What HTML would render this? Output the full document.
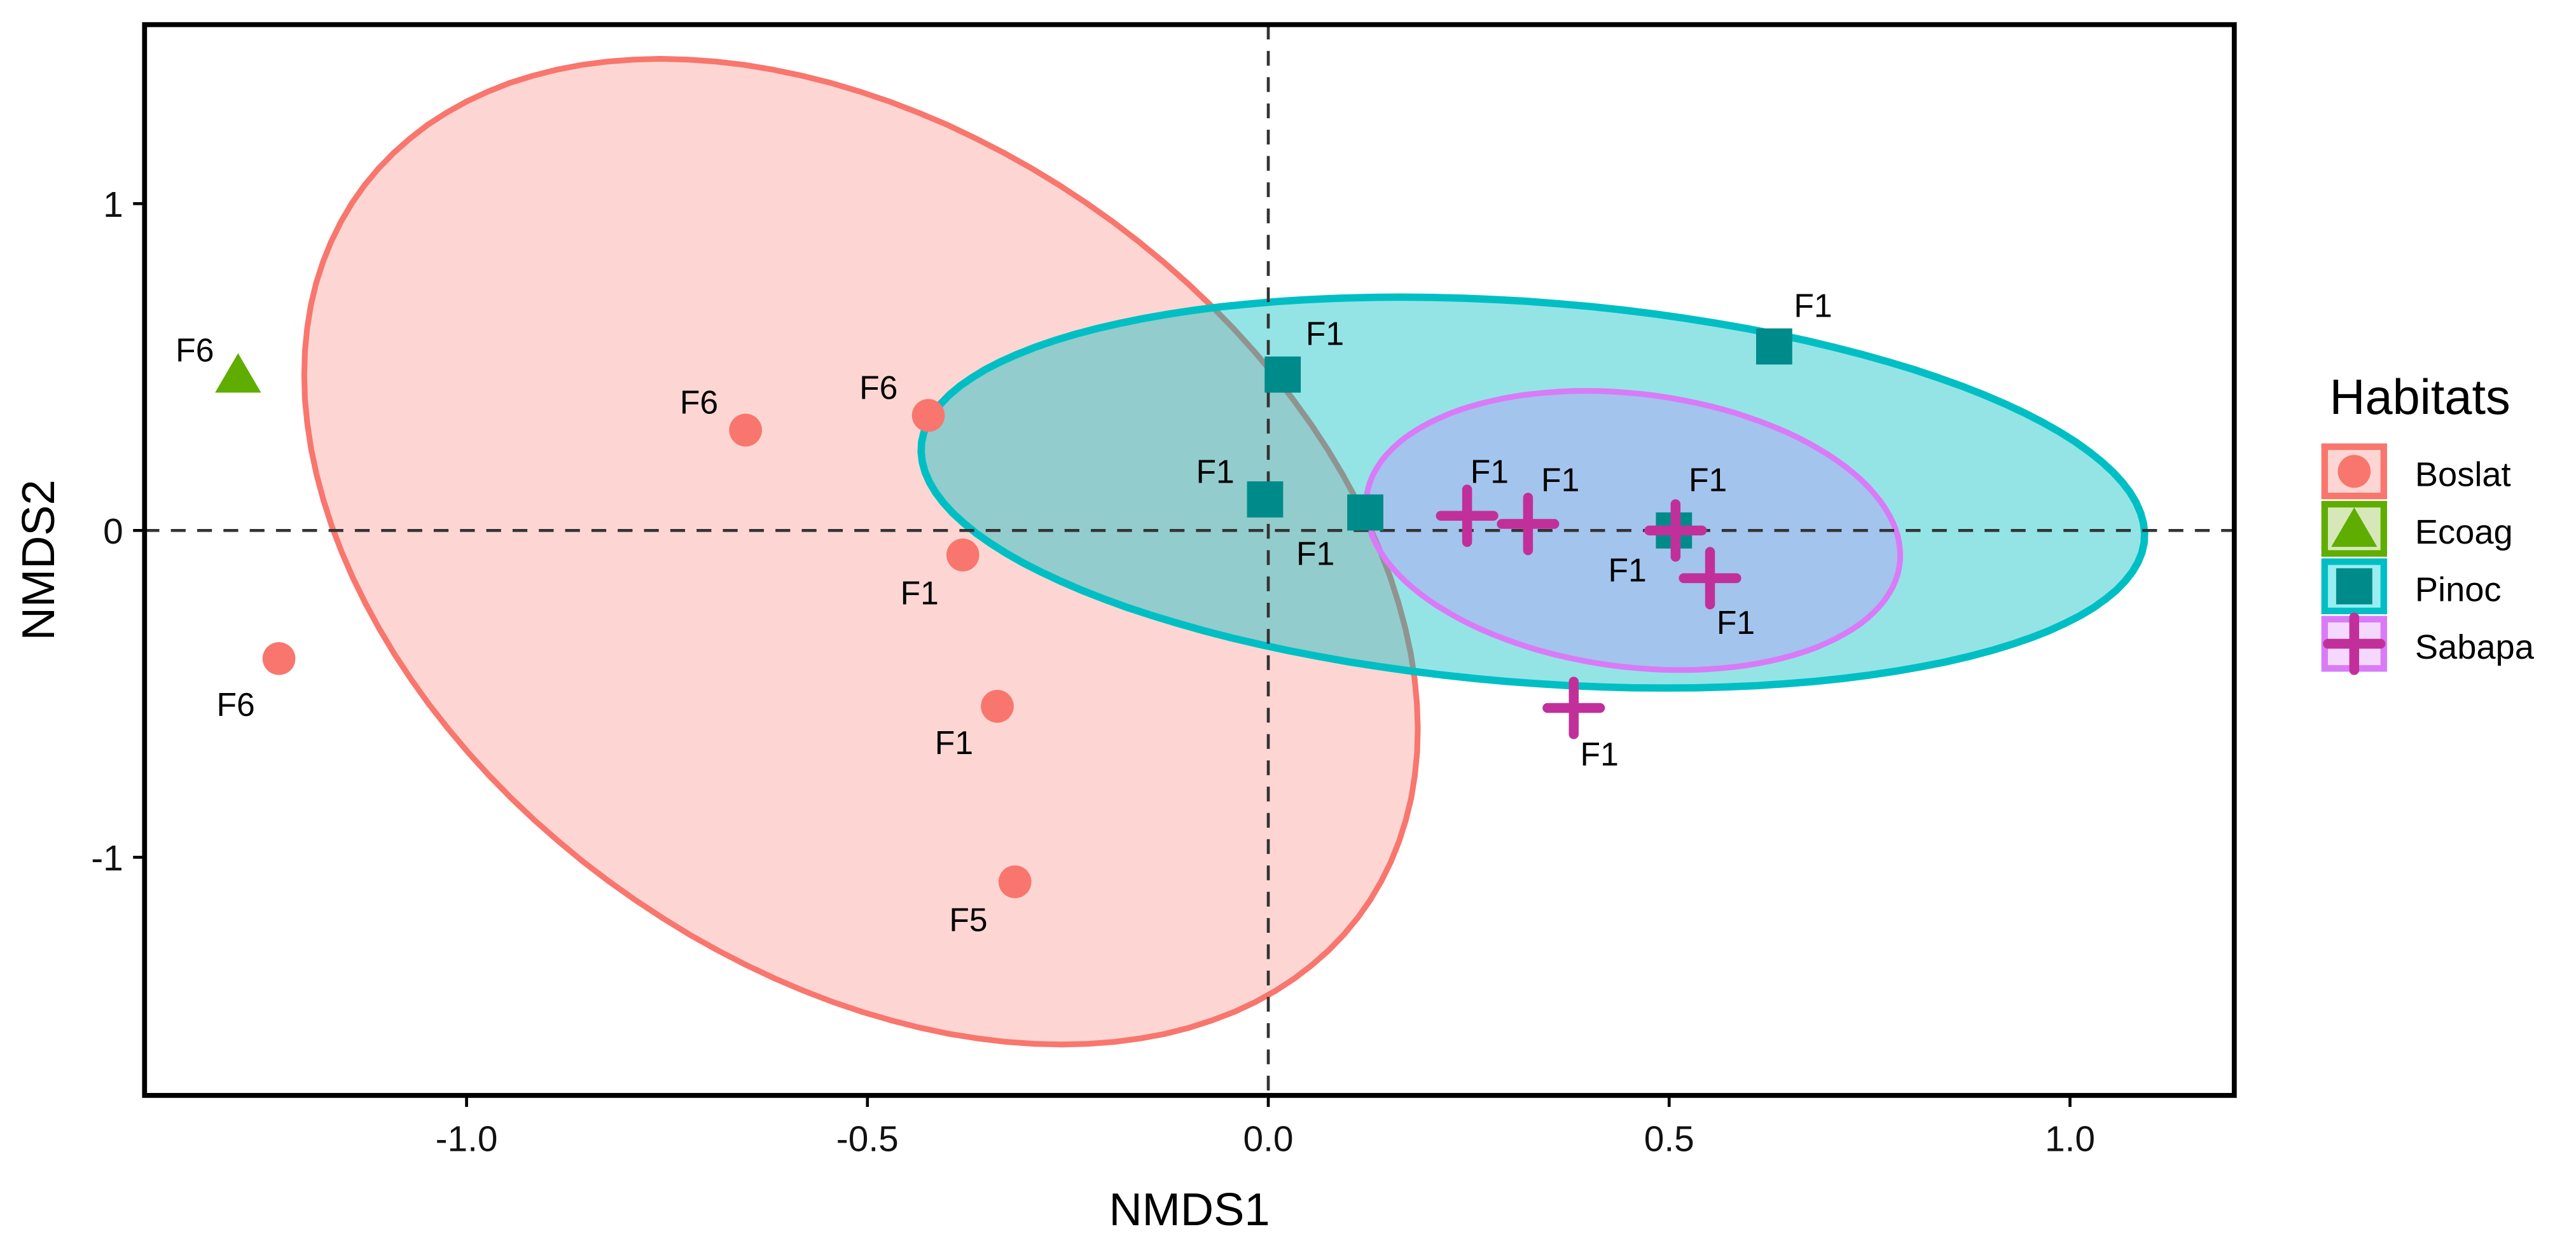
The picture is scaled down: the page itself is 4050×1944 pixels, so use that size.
<!DOCTYPE html>
<html><head><meta charset="utf-8"><style>
html,body{margin:0;padding:0;background:#fff;}
svg{display:block;font-family:"Liberation Sans",Arial,sans-serif;}
</style></head><body>
<svg id="chart" width="4050" height="1944" viewBox="0 0 1568 752.6" preserveAspectRatio="none" xmlns="http://www.w3.org/2000/svg">
<g id="ellipses"></g>
<g id="refs"></g>
<g id="points"></g>
<g id="axes"></g>
<g id="legend"></g>
</svg>
<script>
const NS='http://www.w3.org/2000/svg';
const xTicks=[-1.0,-0.5,0.0,0.5,1.0];
const xTickLabels=['-1.0','-0.5','0.0','0.5','1.0'];
const yTicks=[1,0,-1];
const yTickLabels=['1','0','-1'];
const groups=['Boslat','Ecoag','Pinoc','Sabapa'];
const boslatX=[-0.652,-0.424,-0.381,-1.234,-0.338,-0.316];
const boslatY=[0.307,0.352,-0.075,-0.392,-0.538,-1.075];
const boslatLbl=['F6','F6','F1','F6','F1','F5'];
const ecoagX=[-1.285];
const ecoagY=[0.477];
const ecoagLbl=['F6'];
const pinocX=[0.018,-0.004,0.121,0.631,0.506];
const pinocY=[0.477,0.095,0.055,0.563,0.0];
const pinocLbl=['F1','F1','F1','F1','F1'];
const sabapaX=[0.248,0.324,0.508,0.551,0.381];
const sabapaY=[0.045,0.020,0.000,-0.146,-0.543];
const sabapaLbl=['F1','F1','F1','F1','F1'];
// ellipse: center x,y ; conjugate semi-diameters A(x,y), B(x,y) in data units
const boslatEllipse=[-0.508,-0.065,-0.250,1.508,-0.648,0];
const pinocEllipse=[0.330,0.116,-0.165,0.598,0.745,0];
const sabapaEllipse=[0.455,0.0,-0.059,0.427,0.328,0];

const X0=772, XU=488, Y0=323, YU=199;
const L=88,R=1360,T=15,B=667;
function sx(v){return X0+v*XU;}
function sy(v){return Y0-v*YU;}
function mk(tag,attrs,parent){const e=document.createElementNS(NS,tag);for(const k in attrs)e.setAttribute(k,attrs[k]);parent.appendChild(e);return e;}

const gE=document.getElementById('ellipses');
function drawEllipse(p,fill,stroke,w,name){
  let pts=[];
  for(let i=0;i<=120;i++){const t=i/120*2*Math.PI;
    const x=p[0]+p[2]*Math.cos(t)+p[4]*Math.sin(t);
    const y=p[1]+p[3]*Math.cos(t)+p[5]*Math.sin(t);
    pts.push(sx(x).toFixed(1)+','+sy(y).toFixed(1));}
  const e=mk('polygon',{points:pts.join(' '),fill:fill,stroke:stroke,'stroke-width':w},gE);
  
  
}
drawEllipse(boslatEllipse,'rgba(248,118,109,0.3)','#F8766D',3.5,'boslat-ellipse');
drawEllipse(pinocEllipse,'rgba(0,191,196,0.42)','#00BFC4',4.5,'pinoc-ellipse');
drawEllipse(sabapaEllipse,'rgba(199,124,255,0.3)','#D97BF7',3.5,'sabapa-ellipse');

const gR=document.getElementById('refs');
let l1=mk('line',{x1:L,x2:R,y1:sy(0),y2:sy(0),stroke:'#333','stroke-width':1.8,'stroke-dasharray':'9,7'},gR);


let l2=mk('line',{x1:sx(0),x2:sx(0),y1:T,y2:B,stroke:'#333','stroke-width':1.8,'stroke-dasharray':'9,7'},gR);



const gP=document.getElementById('points');
function marker(kind,cx,cy,parent){
  let e;
  if(kind==='circle'){e=mk('circle',{cx:cx,cy:cy,r:10,fill:'#F8766D'},parent);}
  else if(kind==='tri'){e=mk('polygon',{points:`${cx},${cy-13} ${cx+14},${cy+11} ${cx-14},${cy+11}`,fill:'#5FAD00'},parent);}
  else if(kind==='sq'){e=mk('rect',{x:cx-11,y:cy-11,width:22,height:22,fill:'#008B8B'},parent);}
  else {e=mk('path',{d:`M${cx-16},${cy}H${cx+16}M${cx},${cy-16}V${cy+16}`,stroke:'#C1309A','stroke-width':6,'stroke-linecap':'round',fill:'none'},parent);}
  return e;
}
const offB=[[-40,-10],[-42,-10],[-38,30],[-38,35],[-38,29],[-40,30]];
const offE=[[-38,-8]];
const offP=[[14,-18],[-42,-10],[-42,32],[12,-18],[-40,31]];
const offS=[[2,-20],[8,-20],[8,-24],[4,34],[4,35]];
function series(xs,ys,lbls,kind,offs,name){
  for(let i=0;i<xs.length;i++){
    const cx=sx(xs[i]),cy=sy(ys[i]);
    const m=marker(kind,cx,cy,gP);
    
    
    const t=mk('text',{x:cx+offs[i][0],y:cy+offs[i][1],'font-size':20,fill:'#000'},gP);
    t.textContent=lbls[i];
    
    
  }
}
series(boslatX,boslatY,boslatLbl,'circle',offB,'boslat');
series(ecoagX,ecoagY,ecoagLbl,'tri',offE,'ecoag');
series(pinocX,pinocY,pinocLbl,'sq',offP,'pinoc');
series(sabapaX,sabapaY,sabapaLbl,'plus',offS,'sabapa');

const gA=document.getElementById('axes');
let fr=mk('rect',{x:L,y:T,width:R-L,height:B-T,fill:'none',stroke:'#000','stroke-width':3},gA);


xTicks.forEach((v,i)=>{
  const tk=mk('line',{x1:sx(v),x2:sx(v),y1:B,y2:B+7,stroke:'#000','stroke-width':1.8},gA);
  
  
  const t=mk('text',{x:sx(v),y:B+34,'font-size':22,'text-anchor':'middle',fill:'#111'},gA);
  t.textContent=xTickLabels[i];
  
  
});
yTicks.forEach((v,i)=>{
  const tk=mk('line',{x1:L-7,x2:L,y1:sy(v),y2:sy(v),stroke:'#000','stroke-width':1.8},gA);
  
  
  const t=mk('text',{x:L-13,y:sy(v)+8,'font-size':22,'text-anchor':'end',fill:'#111'},gA);
  t.textContent=yTickLabels[i];
  
  
});
let xt=mk('text',{x:(L+R)/2,y:746,'font-size':28,'text-anchor':'middle',fill:'#000'},gA);
xt.textContent='NMDS1';


let yt=mk('text',{x:0,y:0,'font-size':28,'text-anchor':'middle',fill:'#000',transform:`translate(33,${(T+B)/2}) rotate(-90)`},gA);
yt.textContent='NMDS2';



const gL=document.getElementById('legend');
let lt=mk('text',{x:1418,y:252,'font-size':30,fill:'#000'},gL);
lt.textContent='Habitats';


const legOuter=['#F8766D','#5FAD00','#00BFC4','#D97BF7'];
const legInner=['#FDD5D2','#D6E8B8','#98EEF0','#F5D8FD'];
const legKinds=['circle','tri','sq','plus'];
groups.forEach((g,i)=>{
  const y=270+i*35;
  const o=mk('rect',{x:1413,y:y,width:40,height:34,fill:legOuter[i]},gL);
  
  
  const inn=mk('rect',{x:1417,y:y+4,width:32,height:26,fill:legInner[i]},gL);
  
  
  const m=marker(legKinds[i],1433,y+17,gL);
  
  
  const t=mk('text',{x:1470,y:y+26,'font-size':21,fill:'#000'},gL);
  t.textContent=g;
  
  
});
</script>
</body></html>
